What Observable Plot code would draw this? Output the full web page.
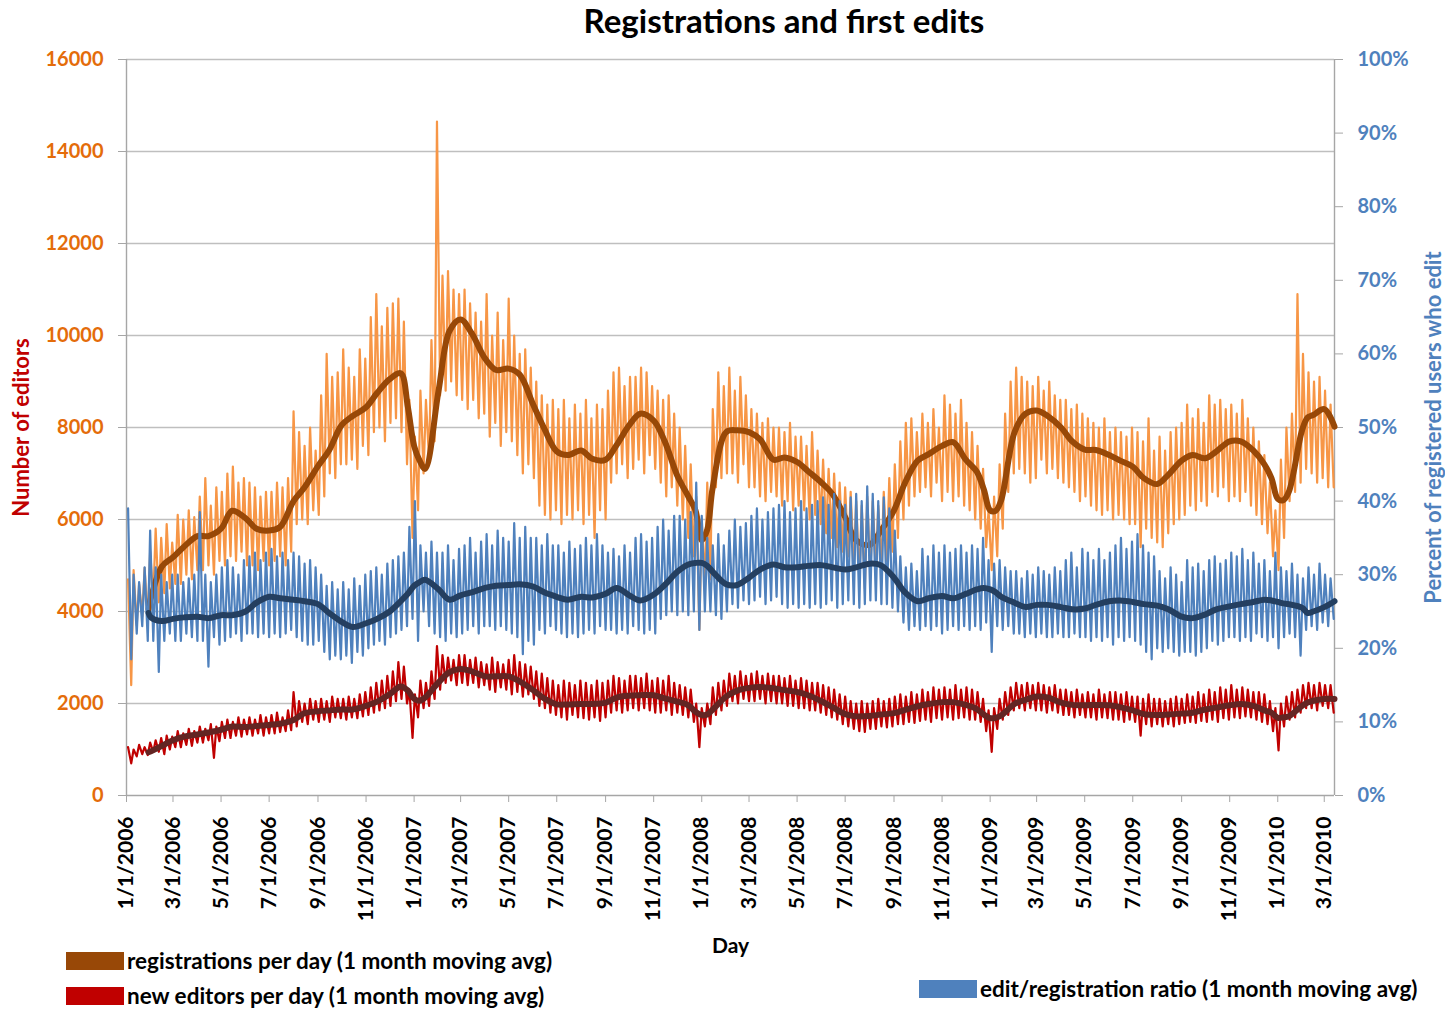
<!DOCTYPE html>
<html>
<head>
<meta charset="utf-8">
<script src="https://cdn.jsdelivr.net/npm/d3@7"></script>
<script src="https://cdn.jsdelivr.net/npm/@observablehq/plot@0.6"></script>
<style>
  body { margin: 0; background: #fff; }
  #wrap { position: relative; width: 1445px; height: 1009px; font-family: Lato, "Open Sans", sans-serif; overflow: hidden; }
  #title { position: absolute; left: 434px; width: 700px; top: 0px; text-align: center; font-size: 33px; font-weight: bold; line-height: 40px; color: #000; z-index: 2; }
  #chart { position: absolute; left: 0; top: 0; }
  .lg { position: absolute; font-size: 22.5px; font-weight: bold; color: #000; line-height: 24px; white-space: nowrap; z-index: 2; display: flex; align-items: center; }
  .sw { display: inline-block; width: 58px; height: 18px; margin-right: 3px; }
</style>
</head>
<body>
<div id="wrap">
  <div id="title">Registrations and first edits</div>
  <div id="chart"></div>
  <div class="lg" style="left:66px;top:949px"><span class="sw" style="background:#984807"></span>registrations per day (1 month moving avg)</div>
  <div class="lg" style="left:66px;top:984px"><span class="sw" style="background:#C00000"></span>new editors per day (1 month moving avg)</div>
  <div class="lg" style="left:919px;top:977px"><span class="sw" style="background:#4F81BD"></span>edit/registration ratio (1 month moving avg)</div>
</div>
<script>
// ---------------- DATA ----------------
// Axis ticks
const leftTicks = [0, 2000, 4000, 6000, 8000, 10000, 12000, 14000, 16000];
const rightTicksPct = [0, 10, 20, 30, 40, 50, 60, 70, 80, 90, 100];
const xTicks = ["2006-01-01","2006-03-01","2006-05-01","2006-07-01","2006-09-01","2006-11-01",
  "2007-01-01","2007-03-01","2007-05-01","2007-07-01","2007-09-01","2007-11-01",
  "2008-01-01","2008-03-01","2008-05-01","2008-07-01","2008-09-01","2008-11-01",
  "2009-01-01","2009-03-01","2009-05-01","2009-07-01","2009-09-01","2009-11-01",
  "2010-01-01","2010-03-01"];
const xDomain = ["2006-01-01", "2010-03-14"];

// Weekly (weeks starting Sunday 2006-01-01) daily highs and lows, registrations per day
const regHi = [
  4700,4900,4600,4950,5300, 5800,5600,5900,5500, 6100,6000,6200,6050, 6500,6900,6300,6700,6600, 7000,7150,6800,6900, 6800,6700,6500,6600, 6600,6800,6700,6900,8350, 7900,7600,8000,7500, 8700,9600,9100,9200, 9700,9300,9100,9700,9500, 10400,10900,10200,10600, 10700,10800,10300,8600,7800,
  8800,8600,9900,14650, 11300,11400,11000,10900, 11000,10700,10500,10300, 10900,10000,10500,9900,10800, 10000,9600,9700,9300, 9000,8700,8500,8600, 8400,8600,8200,8500,8300, 8600,8200,8500,8400, 8800,9200,9300,8900,9100, 9100,9300,9200,8900, 8800,8600,8700,8300, 8000,7600,7200,6500,6000,
  6800,8400,9200,8900, 9300,8800,9100,8700, 8400,8300,8100,8200,8000, 8000,7900,8100,7800, 7800,7600,7900,7500, 7300,7100,7000,6800,6700, 6600,6400,6300,6500, 6400,6300,6600,6900,7200, 7700,8100,8200,7900, 8300,8100,8400,8000, 8700,8500,8300,8600,8100, 7900,7600,7100,6200,
  6500,7200,8300,9000, 9300,9100,9000,8900, 9100,8800,9000,8700,8600, 8600,8400,8500,8300, 8200,8100,8000,8200,7900, 8000,7900,7800,8000, 7900,7700,8200,7500, 7800,7500,7900,8000,8100, 8500,8200,8400,8100, 8700,8500,8600,8400, 8500,8300,8600,8200,8000, 7700,7400,6800,6200,
  7300,8000,8300,10900,9600, 9200,9000,9100,8800, 8500
];
const regLo = [
  2400,3700,3900,3800,4300, 4200,4400,4500,4600, 4600,4800,4700,4900, 4900,5000,4800,5100,5000, 5200,5100,5300,5000, 5000,4900,5100,5000, 5100,5200,5000,5300,5900, 6000,5900,6200,6100, 6500,7000,6900,7200, 7200,7300,7100,7600,7400, 7900,8000,7700,8100, 8200,7900,7200,5600,6200,
  7000,7300,7700,8700, 8800,9000,8700,8600, 8400,8600,8200,8300, 7800,8100,7600,7900,7700, 7400,7000,7200,6900, 6300,6100,6000,6200, 5900,6100,6000,6200,5900, 6100,5600,6200,6000, 6800,7000,7200,6900,7100, 7300,7000,7400,7100, 6800,6500,6700,6300, 6000,5600,5200,3600,4600,
  4700,6700,6900,7000, 7000,6800,7200,6700, 6700,6500,6400,6600,6500, 6300,6400,6200,6300, 6200,6000,6100,5900, 5700,5600,5400,5300,5200, 5000,4700,4500,4800, 4900,5000,5100,5300,5600, 6000,6300,6500,6600, 6700,6500,6800,6400, 6600,6400,6500,6300,6200, 6000,5800,5400,4900,
  5200,5800,6600,7000, 7100,7000,6800,6900, 7300,7000,7100,6900,6800, 6700,6600,6400,6500, 6300,6200,6100,6200,6000, 6100,6000,5900,5900, 5400,5800,5600,5500, 5400,5700,5900,6000,6100, 6300,6200,6400,6300, 6600,6500,6700,6400, 6500,6400,6600,6300,6100, 5900,5700,5200,4900,
  5600,6400,6600,6800,7100, 7000,6800,6900,6700, 6700
];

// Weekly highs and lows, new editors per day
const edHi = [
  1050,1000,1100,1050,1150, 1200,1250,1300,1280, 1400,1350,1450,1400, 1500,1450,1550,1500,1600, 1650,1600,1700,1650, 1700,1650,1750,1700, 1750,1800,1700,1850,2250, 2050,2000,2100,2050, 2100,2050,2150,2100, 2100,2150,2100,2200,2250, 2350,2450,2500,2600, 2700,2900,2800,2300,2200,
  2500,2450,2700,3250, 3050,3000,2950,3050, 3050,2950,3000,2900, 2850,3000,2900,2850,2950, 3050,2900,2850,2800, 2700,2650,2550,2500, 2400,2500,2450,2400,2500, 2450,2400,2500,2450, 2500,2600,2550,2500,2600, 2600,2550,2650,2500, 2550,2500,2600,2450, 2400,2350,2300,2000,1900,
  2000,2350,2450,2500, 2650,2600,2700,2600, 2650,2700,2600,2650,2600, 2600,2550,2600,2500, 2550,2500,2450,2450, 2400,2350,2300,2200,2150, 2050,2000,2050,2000, 2050,2100,2050,2100,2150, 2200,2150,2250,2200, 2300,2250,2350,2300, 2350,2300,2400,2300,2350, 2300,2250,2100,1850,
  1900,2100,2250,2350, 2450,2400,2450,2400, 2450,2400,2350,2400,2300, 2300,2250,2300,2200, 2250,2200,2300,2200,2250, 2250,2200,2250,2150, 2150,2100,2200,2100, 2100,2050,2100,2150,2100, 2200,2150,2250,2200, 2300,2250,2350,2300, 2400,2300,2350,2300,2250, 2250,2200,2050,1900,
  2000,2150,2250,2300,2400, 2450,2400,2450,2400, 2400
];
const edLo = [
  700,850,900,880,950, 950,900,1000,1050, 1050,1100,1080,1150, 1150,1200,820,1180,1250, 1250,1300,1280,1330, 1300,1350,1300,1350, 1350,1380,1400,1420,1500, 1600,1550,1650,1600, 1650,1600,1700,1680, 1650,1700,1680,1720,1750, 1800,1850,1900,1950, 2050,2100,2000,1250,1700,
  1900,1950,2100,2300, 2450,2500,2400,2450, 2400,2450,2350,2400, 2300,2250,2350,2300,2200, 2250,2150,2200,2100, 1950,1900,1800,1750, 1700,1650,1750,1700,1680, 1650,1700,1620,1700, 1800,1850,1800,1850,1900, 1850,1900,1850,1800, 1800,1850,1750,1800, 1750,1700,1600,1050,1500,
  1550,1750,1850,1950, 2050,2000,2100,2050, 2050,2100,2000,2050,2000, 2000,1950,1950,1900, 1900,1850,1850,1800, 1750,1700,1650,1550,1500, 1450,1400,1380,1450, 1450,1500,1480,1500,1550, 1550,1600,1580,1620, 1650,1600,1680,1650, 1700,1650,1680,1700,1650, 1650,1600,1400,950,
  1450,1650,1750,1850, 1900,1850,1900,1850, 1850,1800,1850,1800,1750, 1750,1700,1750,1700, 1700,1650,1700,1680,1650, 1650,1600,1650,1600, 1300,1550,1500,1550, 1500,1550,1500,1550,1580, 1600,1580,1620,1600, 1650,1600,1680,1650, 1700,1680,1720,1700,1650, 1600,1550,1400,980,
  1500,1650,1700,1800,1900, 1900,1850,1950,1900, 1800
];

// Weekly highs and lows, edit/registration ratio (percent)
const ratioHi = [
  39,30,29,31,36, 31,30,29,30, 30,29,29.5,30, 38.5,30,29,30,31, 32,31,30,32, 32.5,33,32,33, 33.5,32.5,33,32,33, 32.5,31.5,32,31, 30,28.5,29,28, 29,28,29.5,28.5,30, 30.5,31,30,31.5, 32,32.5,33,36.5,40,
  34,33,34.5,33, 33,34,32,33.5, 34,35,33,34.5, 35.5,34,36,35,34.5, 37,35,36.5,35, 35,34,35.5,34, 34,33,34.5,33.5,34, 35,34,35.5,34, 33,33.5,32.5,34,33, 35,35.5,34.5,35, 36.5,37.5,36,38, 38,37.5,38.5,42.5,38,
  35,34,35.5,34, 36,37.5,36.5,37, 38,39,37.5,38.5,39, 39.5,40,38.5,39, 40,39,39.5,40, 40.5,39.5,41,40,39.5, 40.5,41,40,42, 41,40,40.5,39,36, 32.5,31,31.5,30.5, 33.5,32.5,34,33, 34,33,33.5,34,33, 34,33.5,35,32,
  31.5,32,31,30.5, 30.5,29.5,30.5,30, 31,30.5,30,31,30.5, 32,33,31,33.5, 33,32,33.5,32,33, 34,35,33.5,34.5, 35.5,34,33,32.5, 30.5,29.5,31,30,29, 32,31,31.5,30.5, 32,32.5,31.5,32, 33,32.5,33.5,32,33, 31.5,32,30.5,33,
  31,30.5,31.5,30,29.5, 31,30,31.5,30, 29.5
];
const ratioLo = [
  18.5,22,23,21,21, 16.8,21,22,21, 21,22,21.5,21, 21,17.5,21.5,20.5,21, 21.5,22,21,22, 22,21.5,22,21.5, 22,21.5,22,22.5,21.5, 21,20.5,20.5,21, 19.5,18.5,19,18.5, 19,18,19.5,19,20, 20.5,21,20.5,21.5, 22,22.5,23,24,21,
  25,23,22,21.5, 21,22,21.5,22, 22.5,23,22,23, 23,22.5,23,22.5,22, 21.5,19.2,21,20.5, 22.5,22,23,22.5, 22,21.5,22,21.5,22, 22.5,22,23,22.5, 22.5,22,22.5,22,23, 22.5,22,22.5,22, 24,24.5,25,24.5, 25,24.5,25,22.5,25,
  25,24.5,24,25, 26,25.5,26.5,26, 26.5,27,26,26.5,27, 26,25.5,26,25.5, 26,25.5,26,25.5, 26,26.5,25.5,26,26.5, 26,25.5,26,26.5, 26.5,26,26,25.5,25, 23.5,22.5,23,22.5, 23,22.5,23,22, 22.5,23,22.5,23,22.5, 23,22.5,23.5,19.5,
  23,22.5,23,22, 22,21.5,22,21.5, 22,21.5,21.5,22,21.5, 21.5,22,21.5,21.5, 21,21.5,21,21.5,20.5, 21.5,21,21.5,21, 20.5,19.5,18.5,20, 19.5,20,19.5,19,19.5, 19.5,19,19.5,20, 21,20.5,21,21.5, 21.5,21,21.5,21,22, 21.5,21,21.5,20,
  21.5,22,21.5,19,22.5, 23,22.5,23.5,23, 24
];

// One-month moving averages, read at roughly semi-monthly dates
const maDates = [
  "2006-01-29","2006-02-01","2006-02-15","2006-03-01","2006-03-15","2006-04-01","2006-04-15","2006-05-01","2006-05-15","2006-06-01","2006-06-15","2006-07-01","2006-07-15","2006-08-01","2006-08-15","2006-09-01","2006-09-15","2006-10-01","2006-10-15","2006-11-01","2006-11-15","2006-12-01","2006-12-15","2006-12-24",
  "2007-01-01","2007-01-08","2007-01-15","2007-02-01","2007-02-15","2007-03-01","2007-03-15","2007-04-01","2007-04-15","2007-05-01","2007-05-15","2007-06-01","2007-06-15","2007-07-01","2007-07-15","2007-08-01","2007-08-15","2007-09-01","2007-09-15","2007-10-01","2007-10-15","2007-11-01","2007-11-15","2007-12-01","2007-12-15","2007-12-24",
  "2008-01-01","2008-01-08","2008-01-15","2008-02-01","2008-02-15","2008-03-01","2008-03-15","2008-04-01","2008-04-15","2008-05-01","2008-05-15","2008-06-01","2008-06-15","2008-07-01","2008-07-15","2008-08-01","2008-08-15","2008-09-01","2008-09-15","2008-10-01","2008-10-15","2008-11-01","2008-11-15","2008-12-01","2008-12-15","2008-12-24",
  "2009-01-01","2009-01-08","2009-01-15","2009-02-01","2009-02-15","2009-03-01","2009-03-15","2009-04-01","2009-04-15","2009-05-01","2009-05-15","2009-06-01","2009-06-15","2009-07-01","2009-07-15","2009-08-01","2009-08-15","2009-09-01","2009-09-15","2009-10-01","2009-10-15","2009-11-01","2009-11-15","2009-12-01","2009-12-15","2009-12-24",
  "2010-01-01","2010-01-08","2010-01-15","2010-02-01","2010-02-08","2010-02-15","2010-03-01","2010-03-14"
];
const regMA = [
  4050,4300,4980,5180,5410,5640,5640,5800,6190,6030,5800,5760,5840,6400,6700,7160,7500,8050,8250,8440,8750,9050,9180,8450,
  7600,7280,7100,8800,10100,10350,10050,9500,9250,9280,9150,8500,7980,7480,7400,7500,7320,7300,7620,8050,8300,8150,7700,6950,6500,6200,
  5550,5780,6700,7900,7940,7900,7740,7300,7350,7250,7050,6800,6550,6050,5550,5450,5750,6200,6800,7280,7420,7600,7680,7300,7040,6650,
  6200,6190,6420,7900,8300,8370,8250,8000,7700,7520,7510,7400,7280,7150,6900,6770,6970,7280,7400,7330,7480,7700,7700,7500,7200,6900,
  6450,6420,6600,7950,8220,8270,8400,8020
];
const edMA = [
  940,960,1080,1200,1280,1325,1370,1430,1500,1490,1510,1535,1560,1640,1790,1830,1850,1870,1870,1950,2040,2200,2370,2280,
  2100,2060,2130,2460,2680,2750,2700,2590,2590,2590,2480,2290,2110,1980,1980,1990,1990,2020,2130,2170,2180,2180,2110,2040,1960,1820,
  1750,1760,1870,2150,2280,2340,2360,2330,2290,2250,2180,2050,1920,1770,1720,1730,1760,1790,1860,1940,1990,2030,2030,1970,1880,1760,
  1680,1690,1740,1990,2080,2150,2130,2020,1970,1960,1970,1960,1920,1850,1770,1750,1760,1780,1800,1870,1910,1960,1990,1950,1850,1800,
  1690,1700,1720,1950,2020,2060,2100,2100
];
const ratioMA = [
  24.8,24.2,23.7,24.0,24.2,24.3,24.1,24.5,24.5,25.0,26.2,27.0,26.8,26.6,26.4,26.0,24.8,23.6,22.9,23.4,24.0,25.0,26.4,27.4,
  28.5,29.0,29.3,28.0,26.6,27.2,27.6,28.2,28.5,28.6,28.7,28.4,27.6,27.0,26.6,27.0,26.9,27.4,28.2,27.2,26.5,27.3,28.6,30.4,31.4,31.6,
  31.6,31.2,30.4,28.7,28.6,29.6,30.7,31.4,31.0,31.0,31.2,31.3,31.0,30.7,31.0,31.5,31.3,29.6,27.6,26.4,26.8,27.1,26.8,27.4,28.0,28.2,
  28.0,27.6,27.0,26.2,25.6,25.9,25.9,25.6,25.3,25.4,25.9,26.4,26.5,26.3,26.0,25.8,25.3,24.3,24.1,24.6,25.3,25.7,26.0,26.3,26.6,26.5,
  26.3,26.1,26.0,25.5,24.8,25.0,25.6,26.4
];

// ---------------- BUILD ----------------
const DAY = 864e5;
const week0 = Date.UTC(2006, 0, 1);
function weekly(hi, lo) {
  const out = [];
  hi.forEach((h, i) => {
    out.push({date: new Date(week0 + (7 * i + 2) * DAY), value: h});
    out.push({date: new Date(week0 + (7 * i + 6) * DAY), value: lo[i]});
  });
  return out;
}
function series(dates, vals) { return dates.map((d, i) => ({date: new Date(d), value: vals[i]})); }

const regRaw = weekly(regHi, regLo);
const edRaw = weekly(edHi, edLo);
const ratioRaw = weekly(ratioHi, ratioLo);
const regAvg = series(maDates, regMA);
const edAvg = series(maDates, edMA);
const ratioAvg = series(maDates, ratioMA);

// right axis (percent) shares the left y scale: 100% <-> 16000
const PCT = 16000 / 100;
const fmtDate = d => `${d.getUTCMonth() + 1}/${d.getUTCDate()}/${d.getUTCFullYear()}`;
const xStart = new Date(xDomain[0]), xEnd = new Date(xDomain[1]);
const axisGray = "#A6A6A6";

const chart = Plot.plot({
  width: 1445,
  height: 960,
  marginLeft: 126,
  marginRight: 111,
  marginTop: 59,
  marginBottom: 165,
  style: {fontFamily: "Lato, 'Open Sans', sans-serif", background: "transparent", overflow: "visible"},
  x: {type: "utc", domain: [xStart, xEnd]},
  y: {domain: [0, 16000]},
  marks: [
    Plot.ruleY(leftTicks.slice(1), {stroke: "#BFBFBF", strokeWidth: 1.4}),
    Plot.ruleY([0], {stroke: axisGray, strokeWidth: 1.4}),
    Plot.ruleX([xStart], {stroke: axisGray, strokeWidth: 1.4}),
    Plot.ruleX([xEnd], {stroke: axisGray, strokeWidth: 1.4}),
    Plot.axisY({ticks: leftTicks, tickFormat: d => String(d), tickSize: 8, tickPadding: 15, stroke: axisGray, fill: "#E46C0A",
      fontSize: 20, fontWeight: "bold", label: null}),
    Plot.axisY({anchor: "right", ticks: rightTicksPct.map(p => p * PCT), tickFormat: v => `${Math.round(v / PCT)}%`,
      tickSize: 8, tickPadding: 15, stroke: axisGray, fill: "#4F81BD", fontSize: 20, fontWeight: "bold", label: null}),
    Plot.axisX({ticks: xTicks.map(s => new Date(s)), tickFormat: fmtDate, tickRotate: -90, tickSize: 7, tickPadding: 14,
      stroke: axisGray, fill: "#000", fontSize: 21, fontWeight: "bold", label: null}),
    Plot.line(regRaw, {x: "date", y: "value", stroke: "#F79646", strokeWidth: 2.2}),
    Plot.line(regAvg, {x: "date", y: "value", stroke: "#984807", strokeWidth: 6, curve: "catmull-rom", strokeLinecap: "round"}),
    Plot.line(edRaw, {x: "date", y: "value", stroke: "#C00000", strokeWidth: 2.2}),
    Plot.line(edAvg, {x: "date", y: "value", stroke: "#632523", strokeWidth: 6, curve: "catmull-rom", strokeLinecap: "round"}),
    Plot.line(ratioRaw, {x: "date", y: d => d.value * PCT, stroke: "#4F81BD", strokeWidth: 2.2}),
    Plot.line(ratioAvg, {x: "date", y: d => d.value * PCT, stroke: "#243F60", strokeWidth: 6, curve: "catmull-rom", strokeLinecap: "round"}),
    Plot.text(["Number of editors"], {text: d => d, frameAnchor: "left", textAnchor: "middle", dx: -105, rotate: -90, fill: "#C00000", fontSize: 22, fontWeight: "bold"}),
    Plot.text(["Percent of registered users who edit"], {text: d => d, frameAnchor: "right", textAnchor: "middle", dx: 99, rotate: -90, fill: "#4F81BD", fontSize: 22, fontWeight: "bold"}),
    Plot.text(["Day"], {text: d => d, frameAnchor: "bottom", dy: 157, fill: "#000", fontSize: 21, fontWeight: "bold"})
  ]
});
document.getElementById("chart").appendChild(chart);
</script>
</body>
</html>
